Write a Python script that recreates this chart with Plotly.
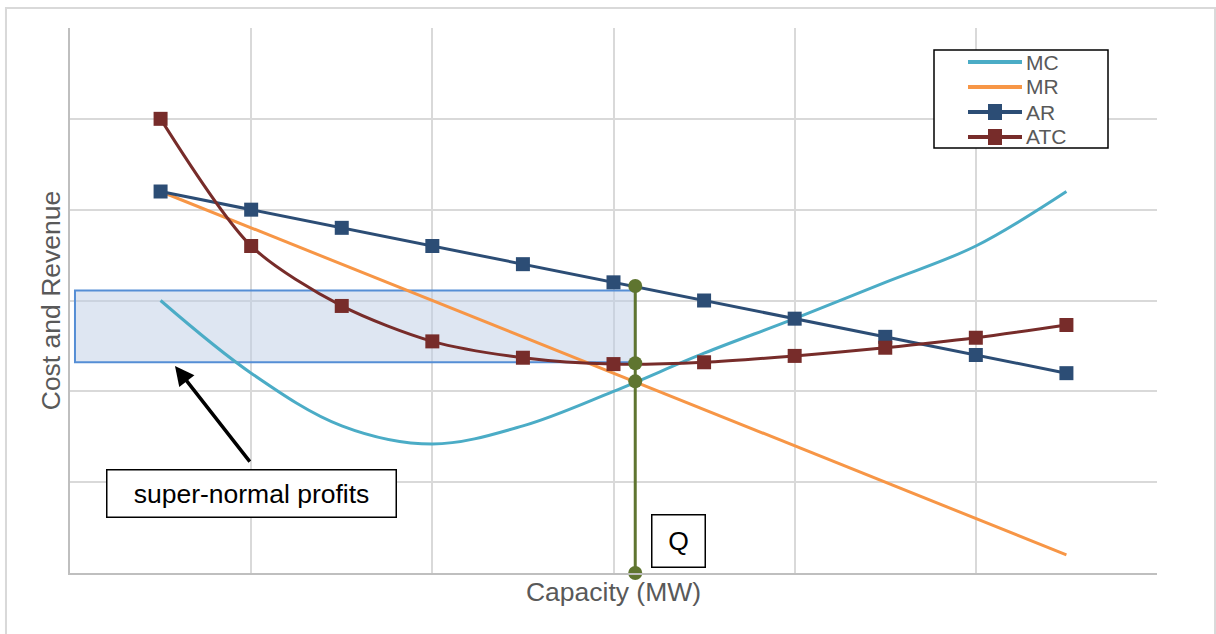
import plotly.graph_objects as go

# Output levels (capacity units)
capacity = [1, 2, 3, 4, 5, 6, 7, 8, 9, 10, 11]

# Cost and revenue schedules
mc = [3.0, 2.2, 1.62, 1.42, 1.62, 2.0, 2.42, 2.8, 3.2, 3.6, 4.2]
mr = [4.2, 3.8, 3.4, 3.0, 2.6, 2.2, 1.8, 1.4, 1.0, 0.6, 0.2]
ar = [4.2, 4.0, 3.8, 3.6, 3.4, 3.2, 3.0, 2.8, 2.6, 2.4, 2.2]
atc = [5.0, 3.6, 2.94, 2.55, 2.37, 2.3, 2.32, 2.39, 2.48, 2.59, 2.73]

q_out = 6.24
q_levels = [0.0, 2.11, 2.31, 3.16]
profit_top = 3.11
profit_bottom = 2.32
profit_left = 0.055

# Legend entries
legend_names = ["MC", "MR", "AR", "ATC"]

C_MC = "#4bacc6"
C_MR = "#f79646"
C_AR = "#2c4d75"
C_ATC = "#772c2a"
C_Q = "#5f7530"
GRID = "#d9d9d9"
AXIS = "#bfbfbf"
TXT = "#595959"
FONT = "Liberation Sans, Arial"

series_style = {
    "MC": (C_MC, False),
    "MR": (C_MR, False),
    "AR": (C_AR, True),
    "ATC": (C_ATC, True),
}

fig = go.Figure()

fig.add_trace(go.Scatter(x=capacity, y=mc, name="MC", mode="lines",
                         line=dict(color=C_MC, width=3, shape="spline", smoothing=1.0)))
fig.add_trace(go.Scatter(x=capacity, y=mr, name="MR", mode="lines",
                         line=dict(color=C_MR, width=3)))
fig.add_trace(go.Scatter(x=capacity, y=ar, name="AR", mode="lines+markers",
                         line=dict(color=C_AR, width=3),
                         marker=dict(symbol="square", size=14, color=C_AR)))
fig.add_trace(go.Scatter(x=capacity, y=atc, name="ATC", mode="lines+markers",
                         line=dict(color=C_ATC, width=3, shape="spline", smoothing=0.8),
                         marker=dict(symbol="square", size=14, color=C_ATC)))
fig.add_trace(go.Scatter(x=[q_out] * len(q_levels), y=q_levels, mode="lines+markers",
                         cliponaxis=False,
                         line=dict(color=C_Q, width=3),
                         marker=dict(symbol="circle", size=14, color=C_Q)))

# Super-normal profit area
fig.add_shape(type="rect", xref="x", yref="y",
              x0=profit_left, x1=q_out, y0=profit_bottom, y1=profit_top,
              fillcolor="rgba(189,205,229,0.5)",
              line=dict(color="#558ed5", width=2), layer="between")

# Outer chart border
fig.add_shape(type="rect", xref="paper", yref="paper",
              x0=-0.0589, x1=1.0534, y0=-0.13, y1=1.0367,
              line=dict(color=GRID, width=2), fillcolor="rgba(0,0,0,0)", layer="below")

# Legend panel (paper coordinates)
PW, PH, PL, PB = 1087.0, 545.0, 70.0, 573.0


def px_x(v):
    return (v - PL) / PW


def px_y(v):
    return (PB - v) / PH


fig.add_shape(type="rect", xref="paper", yref="paper",
              x0=px_x(934), x1=px_x(1108), y0=px_y(148), y1=px_y(50),
              line=dict(color="black", width=1.5), fillcolor="white", layer="above")
row_y = [62, 87, 112, 137]
for name, ry in zip(legend_names, row_y):
    color, has_marker = series_style[name]
    fig.add_shape(type="line", xref="paper", yref="paper",
                  x0=px_x(968), x1=px_x(1022), y0=px_y(ry), y1=px_y(ry),
                  line=dict(color=color, width=4), layer="above")
    if has_marker:
        fig.add_shape(type="rect", xref="paper", yref="paper",
                      x0=px_x(988), x1=px_x(1002), y0=px_y(ry + 8), y1=px_y(ry - 8),
                      line=dict(width=0), fillcolor=color, layer="above")
    fig.add_annotation(x=px_x(1025), y=px_y(ry), xref="paper", yref="paper",
                       text=name, showarrow=False, xanchor="left", yanchor="middle",
                       borderpad=0,
                       font=dict(family=FONT, size=21, color=TXT))

fig.add_annotation(x=2.0, y=0.87, xref="x", yref="y", text="super-normal profits",
                   showarrow=False, font=dict(family=FONT, size=26.5, color="black"),
                   bgcolor="white", bordercolor="black", borderwidth=1.5, borderpad=2,
                   width=284, height=42)
fig.add_annotation(x=1.159, y=2.28, xref="x", yref="y", ax=1.998, ay=1.21,
                   axref="x", ayref="y", text="", showarrow=True,
                   arrowhead=2, arrowsize=1.1, arrowwidth=3.5, arrowcolor="black")
fig.add_annotation(x=6.718, y=0.352, xref="x", yref="y", text="Q",
                   showarrow=False, font=dict(family=FONT, size=26.5, color="black"),
                   bgcolor="white", bordercolor="black", borderwidth=1.5, borderpad=2,
                   width=48, height=47)

fig.update_layout(
    width=1216, height=634,
    margin=dict(l=70, r=59, t=28, b=61),
    paper_bgcolor="white", plot_bgcolor="white",
    font=dict(family=FONT, color=TXT),
    showlegend=False,
    xaxis=dict(range=[0, 12], dtick=2, tick0=0, showticklabels=False, ticks="",
               showgrid=True, gridcolor=GRID, gridwidth=1.5,
               showline=True, linecolor=AXIS, linewidth=1.5, zeroline=False,
               title=dict(text="Capacity (MW)", font=dict(size=26.5, color=TXT), standoff=9)),
    yaxis=dict(range=[0, 6], dtick=1, tick0=0, showticklabels=False, ticks="",
               showgrid=True, gridcolor=GRID, gridwidth=1.5,
               showline=True, linecolor=AXIS, linewidth=1.5, zeroline=False,
               title=dict(text="Cost and Revenue", font=dict(size=26.5, color=TXT), standoff=0)),
)

fig.write_html("out.html")
